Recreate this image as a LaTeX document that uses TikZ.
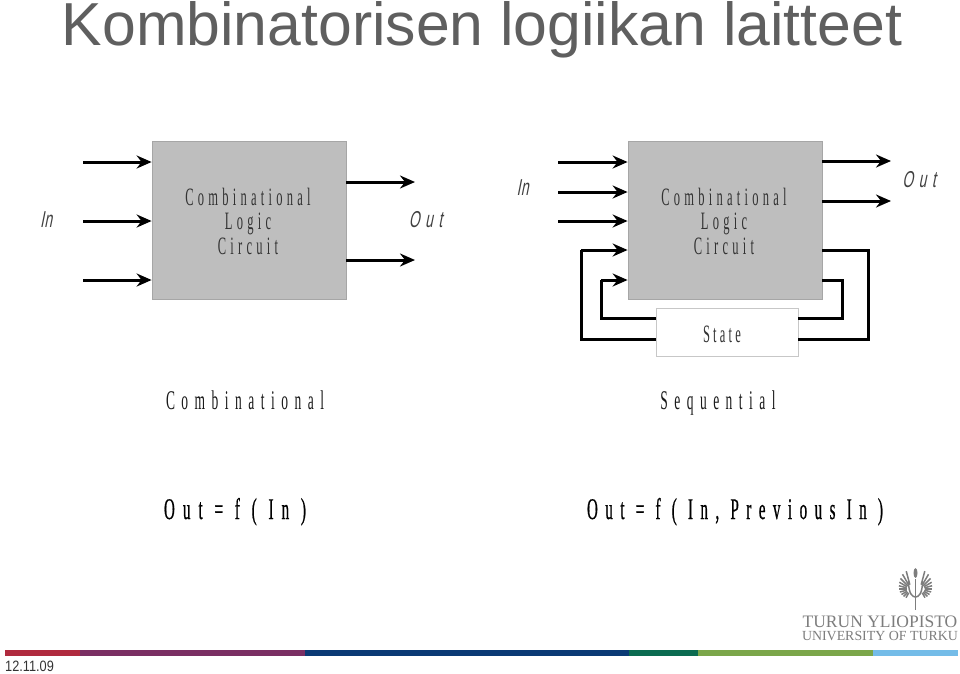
\documentclass[tikz,border=0pt]{standalone}
\usepackage{fontspec}
\usepackage{xcolor}
\usetikzlibrary{arrows.meta}
\setmainfont{Liberation Sans}
\newfontfamily\slidefont{Liberation Sans}
\newfontfamily\narrowfont[FakeStretch=0.5]{Liberation Serif}
\newfontfamily\slantfont[FakeStretch=0.6,FakeSlant=0.2]{Liberation Sans}
\newfontfamily\logofont{Liberation Serif}
\newfontfamily\datefont[FakeStretch=0.85]{Liberation Sans}
\definecolor{titlegray}{RGB}{95, 95, 95}
\definecolor{boxgray}{RGB}{190, 190, 190}
\definecolor{logogray}{RGB}{125, 125, 125}
\definecolor{barred}{RGB}{176, 42, 62}
\definecolor{barpurple}{RGB}{122, 47, 99}
\definecolor{barnavy}{RGB}{11, 58, 117}
\definecolor{barteal}{RGB}{11, 107, 80}
\definecolor{bargreen}{RGB}{123, 166, 74}
\definecolor{barblue}{RGB}{116, 188, 232}
\tikzset{
  logicbox/.style={draw=black!35, fill=boxgray, line width=0.8pt, minimum width=194pt, minimum height=158pt, inner sep=0pt},
  statebox/.style={draw=black!22, fill=white, line width=0.8pt, minimum width=142pt, minimum height=48pt, inner sep=0pt},
  sig/.style={line width=3pt, -{Stealth[length=15pt, width=13pt, inset=5pt]}},
  loopline/.style={line width=3pt, line join=miter},
  boxtext/.style={font=\narrowfont\fontsize{25}{24.5}\selectfont\addfontfeature{LetterSpace=17}, text=black!80, align=center, inner sep=0pt},
  statetext/.style={font=\narrowfont\fontsize{25}{24.5}\selectfont\addfontfeature{LetterSpace=13}, text=black!80, inner sep=0pt},
  outlabel/.style={font=\slantfont\fontsize{23}{24}\selectfont\addfontfeature{LetterSpace=24}, text=black!75, inner sep=0pt},
  inlabel/.style={font=\slantfont\fontsize{23}{24}\selectfont\addfontfeature{LetterSpace=2}, text=black!75, inner sep=0pt},
  caption/.style={font=\narrowfont\fontsize{27}{28}\selectfont\addfontfeature{LetterSpace=24}, text=black!90, inner sep=0pt, anchor=base},
  formula/.style={font=\narrowfont\fontsize{30}{30}\selectfont\addfontfeature{LetterSpace=27,FakeBold=0.6}, text=black, inner sep=0pt, anchor=base},
  feather/.style={logogray, line width=1.5pt}
}

\begin{document}
\begin{tikzpicture}[x=1pt, y=-1pt]
  \useasboundingbox (0,0) rectangle (960,673);

  % Otsikko
  \node[font=\slidefont\fontsize{60.7}{62}\selectfont, text=titlegray, inner sep=0pt] (title) at (482,29.5) {Kombinatorisen logiikan laitteet};

  % Combinational
  \node[logicbox] (boxa) at (249,220.5) {};
  \node[boxtext] (texta) at (248,221) {Combinational\\Logic\\Circuit};
  \node[inlabel] (ina) at (46,220) {In};
  \node[outlabel] (outa) at (425.5,220) {Out};
  \foreach \n/\y in {1/162, 2/221, 3/280} {
    \coordinate (ina\n) at (83,\y);
    \draw[sig] (ina\n) -- (ina\n -| boxa.west);
  }
  \foreach \n/\y in {1/182, 2/260} {
    \coordinate (outa\n) at (415,\y);
    \draw[sig] (outa\n -| boxa.east) -- (outa\n);
  }

  % Sequential
  \node[logicbox] (boxb) at (725,220.5) {};
  \node[boxtext] (textb) at (724,221) {Combinational\\Logic\\Circuit};
  \node[statebox] (state) at (727,332) {};
  \node[statetext] (statelabel) at (722,334) {State};
  \node[inlabel] (inb) at (522.5,188) {In};
  \node[outlabel] (outb) at (919,180) {Out};
  \foreach \n/\y in {1/162, 2/192, 3/221} {
    \coordinate (inb\n) at (558,\y);
    \draw[sig] (inb\n) -- (inb\n -| boxb.west);
  }
  \foreach \n/\y in {1/161, 2/201} {
    \coordinate (outb\n) at (891,\y);
    \draw[sig] (outb\n -| boxb.east) -- (outb\n);
  }

  % Takaisinkytkennat
  \coordinate (fbl1) at (581,250);
  \coordinate (fbl2) at (601,280);
  \coordinate (fbr1) at (868,250);
  \coordinate (fbr2) at (842,280);
  \coordinate (low1) at (727,339);
  \coordinate (low2) at (727,318);
  \foreach \n in {1,2} {
    \draw[loopline] (state.west |- low\n) -| (fbl\n);
    \draw[sig] (fbl\n) -- (fbl\n -| boxb.west);
    \draw[loopline] (fbr\n -| boxb.east) -- (fbr\n) -- (fbr\n |- low\n) -- (state.east |- low\n);
  }

  % Alatekstit
  \node[caption] (capa) at (245,409.5) {Combinational};
  \node[caption] (capb) at (718,409.5) {Sequential};
  \node[formula] (fora) at (235,519) {Out = f ( In )};
  \node[formula] (forb) at (735,519) {\addfontfeature{LetterSpace=25}Out = f ( In, Previous In )};

  % Logo
  \foreach \s in {1,-1} {
    \begin{scope}[shift={(915.5,0)}, xscale=\s]
      \foreach \a/\r in {-105/18.5, -120/17, -135/15, -150/13.5, -165/12.5, 180/12, 165/11.5, 150/11, 135/10.5, 120/10} {
        \draw[feather] (-4.5,589) ++(\a:4.5) -- ++(\a:\r-4.5);
      }
      \draw[feather] (-7,581) .. controls (-7,594) and (-3,597) .. (0,597);
    \end{scope}
  }
  \draw[logogray, line width=1.5pt] (915.5,579) -- (915.5,610);
  \fill[logogray] (915.5,573) ellipse (2pt and 5pt);
  \node[font=\logofont\fontsize{17.5}{18}\selectfont, text=logogray, inner sep=0pt] (logofi) at (880,621.5) {TURUN YLIOPISTO};
  \node[font=\logofont\fontsize{13.9}{14}\selectfont, text=logogray, inner sep=0pt] (logoen) at (880,635.5) {UNIVERSITY OF TURKU};

  % Alapalkki
  \foreach \xa/\xb/\c in {5/80/barred, 80/305/barpurple, 305/629/barnavy, 629/698/barteal, 698/873/bargreen, 873/958/barblue} {
    \fill[\c] (\xa,650) rectangle (\xb,656);
  }
  \node[font=\datefont\fontsize{15}{15}\selectfont, text=black!80, inner sep=0pt, anchor=west] (date) at (5,666) {12.11.09};
\end{tikzpicture}
\end{document}
